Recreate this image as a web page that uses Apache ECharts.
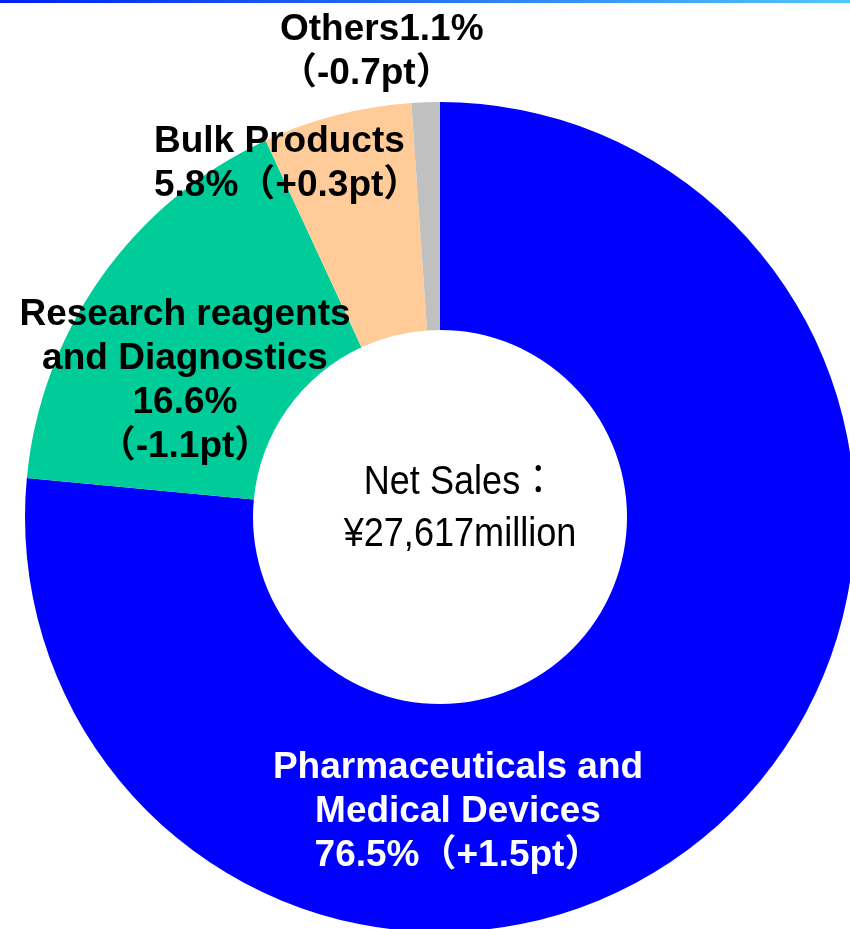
<!DOCTYPE html>
<html>
<head>
<meta charset="utf-8">
<script src="https://cdn.jsdelivr.net/npm/echarts@6/dist/echarts.min.js"></script>
<style>
  html, body { margin: 0; padding: 0; background: #fff; }
  #chart { width: 850px; height: 929px; }
</style>
</head>
<body>
<div id="chart"></div>
<script>
const segments = ['Pharmaceuticals and\nMedical Devices', 'Research reagents\nand Diagnostics', 'Bulk Products', 'Others']
const shares = [76.5, 16.6, 5.8, 1.1]
const changes = ['+1.5pt', '-1.1pt', '+0.3pt', '-0.7pt']
const colors = ['#0000ff', '#00cc99', '#ffcc99', '#c0c0c0']
const totalText = 'Net Sales：\n¥27,617million'

// label anchor + alignment for each slice
const labelPos = [
  [458, 812, 'center'],
  [185, 381, 'center'],
  [154, 164, 'left'],
  [280, 52, 'left']
]

const labelText = (i) => {
  if (i === 0) return segments[0] + '\n' + shares[0] + '%（' + changes[0] + '）'
  if (i === 1) return segments[1] + '\n' + shares[1] + '%\n（' + changes[1] + '）'
  if (i === 2) return segments[2] + '\n' + shares[2] + '%（' + changes[2] + '）'
  return segments[3] + shares[3] + '%\n（' + changes[3] + '）'
}

const chart = echarts.init(document.getElementById('chart'))

chart.setOption({
  animation: false,
  backgroundColor: '#fff',
  graphic: [
    {
      type: 'rect',
      shape: { x: 0, y: 0, width: 850, height: 3 },
      style: {
        fill: new echarts.graphic.LinearGradient(0, 0, 1, 0, [
          { offset: 0, color: '#0020f0' },
          { offset: 1, color: '#50c8f8' }
        ])
      }
    },
    {
      // narrow-looking centre text: Liberation Sans squeezed horizontally
      type: 'text',
      x: 460,
      y: 509,
      scaleX: 0.88,
      style: {
        text: totalText,
        align: 'center',
        verticalAlign: 'middle',
        font: '41px "Liberation Sans", Arial, "Noto Sans CJK JP", sans-serif',
        lineHeight: 52,
        fill: '#000'
      }
    }
  ],
  series: [
    {
      type: 'pie',
      center: [440, 517],
      radius: [187, 415],
      startAngle: 90,
      clockwise: true,
      silent: true,
      itemStyle: { borderWidth: 0 },
      label: {
        show: true,
        position: 'inside',
        fontFamily: '"Liberation Sans", Arial, "Noto Sans CJK JP", sans-serif',
        fontWeight: 'bold',
        fontSize: 37,
        lineHeight: 44,
        color: '#000',
        formatter: (p) => labelText(p.dataIndex)
      },
      labelLine: { show: false },
      labelLayout: (p) => ({
        x: labelPos[p.dataIndex][0],
        y: labelPos[p.dataIndex][1],
        align: labelPos[p.dataIndex][2],
        verticalAlign: 'middle'
      }),
      data: shares.map((v, i) => ({
        value: v,
        name: segments[i],
        itemStyle: { color: colors[i] },
        label: i === 0 ? { color: '#fff' } : {}
      }))
    }
  ]
})
</script>
</body>
</html>
